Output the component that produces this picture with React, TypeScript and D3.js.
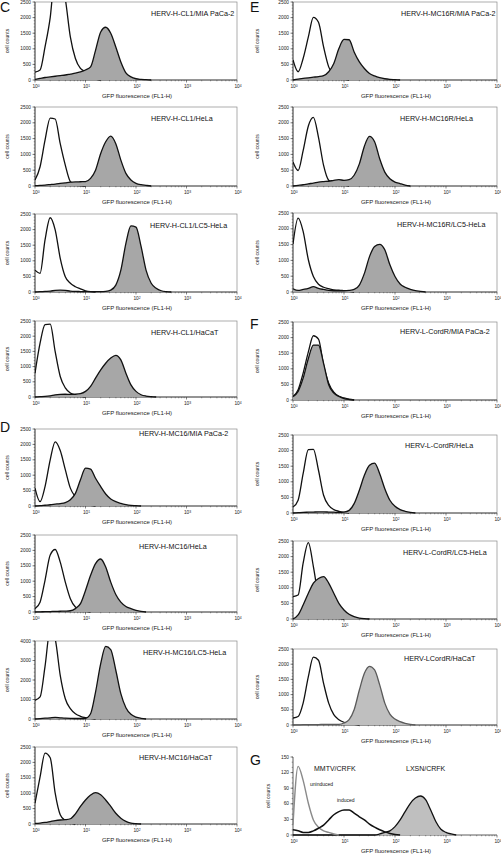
import React from "react";
import * as d3 from "d3";

// shared fluorescence grid (FL1-H), 0.1-decade steps
const fluorescence = [1, 1.26, 1.58, 2, 2.51, 3.16, 3.98, 5.01, 6.31, 7.94, 10, 12.6, 15.8, 20, 25.1, 31.6, 39.8, 50.1, 63.1, 79.4, 100, 126, 158, 200, 251, 316, 398, 501, 631, 794, 1000, 1259, 1585];

const decadeTicks = [1, 10, 100, 1000, 10000];
const decadeExponents = ["0", "1", "2", "3", "4"];
const countTicks = [0, 500, 1000, 1500, 2000, 2500];
const countTicksLC5 = [0, 1000, 2000, 3000, 4000];
const countTicksG = [0, 30, 60, 90, 120, 150];

const panelLetters = ["C", "D", "E", "F", "G"];

// C
const c1Control = [250, 320, 1060, 2000, 3400, 3300, 2600, 1380, 690, 370, 265, 100, 30, 0];
const c1Sample = [20, 50, 80, 100, 120, 140, 160, 190, 220, 260, 320, 420, 950, 1540, 1690, 1500, 1060, 580, 230, 100, 40, 20, 10, 0];
const c2Control = [190, 610, 1450, 2150, 2120, 1340, 660, 140, 30, 10, 0];
const c2Sample = [10, 20, 30, 45, 60, 80, 100, 120, 130, 135, 140, 240, 500, 1030, 1400, 1580, 1340, 820, 400, 190, 85, 40, 20, 0];
const c3Control = [700, 600, 1670, 2380, 1990, 1080, 490, 280, 170, 100, 40, 10, 0];
const c3Sample = [0, 10, 20, 30, 50, 60, 50, 30, 20, 15, 10, 10, 10, 10, 20, 60, 220, 700, 1560, 2120, 2080, 1460, 700, 280, 120, 40, 10, 0];
const c4Control = [785, 1770, 2380, 2400, 1490, 675, 300, 130, 65, 20, 0];
const c4Sample = [0, 10, 20, 40, 70, 85, 90, 85, 90, 110, 185, 350, 620, 890, 1110, 1280, 1370, 1220, 785, 400, 185, 75, 30, 10, 0];
// D
const d1Control = [580, 140, 630, 1500, 2080, 1800, 1180, 580, 300, 140, 65, 20, 0];
const d1Sample = [0, 10, 25, 40, 60, 80, 110, 200, 410, 850, 1230, 1200, 900, 630, 390, 230, 140, 85, 45, 20, 10, 0];
const d2Control = [110, 320, 1030, 1850, 2030, 1620, 970, 430, 160, 75, 30, 0];
const d2Sample = [0, 5, 10, 15, 20, 25, 30, 40, 110, 270, 700, 1190, 1570, 1720, 1460, 970, 570, 320, 180, 110, 55, 20, 0];
const d3Control = [960, 1130, 2700, 4600, 4100, 2240, 1040, 530, 270, 140, 70, 30, 0];
const d3Sample = [0, 20, 40, 60, 80, 60, 40, 30, 25, 25, 35, 270, 1380, 2840, 3720, 3560, 2500, 1300, 580, 240, 100, 35, 0];
const d4Control = [675, 1530, 2300, 2150, 1000, 300, 110, 30, 0];
const d4Sample = [20, 30, 50, 80, 110, 130, 140, 170, 330, 570, 780, 940, 1020, 950, 780, 570, 350, 190, 85, 30, 10, 0];
// E
const e1Control = [640, 265, 690, 1380, 2010, 1850, 1060, 420, 160, 75, 30, 0];
const e1Sample = [0, 30, 50, 70, 90, 110, 140, 265, 530, 1010, 1300, 1290, 900, 580, 370, 210, 130, 75, 40, 20, 10, 0];
const e2Control = [760, 490, 1120, 1900, 2170, 1540, 650, 180, 95, 60, 30, 0];
const e2Sample = [0, 20, 40, 70, 90, 125, 140, 150, 180, 200, 180, 200, 340, 700, 1260, 1570, 1400, 860, 440, 230, 125, 75, 30, 0];
const e3Control = [1520, 2340, 1920, 1020, 490, 245, 150, 105, 65, 60, 40, 20, 0];
const e3Sample = [100, 50, 80, 115, 170, 115, 80, 50, 40, 40, 40, 50, 80, 220, 590, 1120, 1440, 1510, 1335, 860, 490, 255, 150, 85, 40, 20, 0];
// F
const f1Control = [110, 330, 860, 1540, 2060, 1950, 1120, 540, 250, 115, 65, 25, 0];
const f1Sample = [110, 275, 700, 1330, 1760, 1760, 1170, 490, 220, 115, 45, 15, 0];
const f2Control = [190, 410, 1260, 2030, 2040, 1370, 570, 245, 110, 55, 20, 0];
const f2Sample = [0, 10, 20, 25, 30, 35, 35, 30, 25, 20, 30, 85, 300, 730, 1210, 1530, 1600, 1260, 780, 410, 215, 110, 55, 20, 0];
const f3Control = [720, 770, 1790, 2450, 1680, 720, 290, 130, 55, 20, 0];
const f3Sample = [0, 130, 450, 825, 1150, 1300, 1360, 1150, 825, 500, 290, 150, 75, 30, 10, 0];
const f4Control = [230, 280, 720, 1590, 2230, 2130, 1370, 720, 340, 175, 90, 45, 20, 0];
const f4Sample = [0, 5, 10, 10, 15, 15, 20, 20, 20, 20, 65, 175, 500, 1150, 1700, 1930, 1810, 1320, 720, 360, 195, 110, 55, 20, 0];
// G
const gUninduced = [20, 132, 105, 61, 29, 15, 8, 5, 2, 0];
const gInduced = [10, 8, 5, 5, 8, 13, 19, 29, 39, 45, 48, 48, 42, 35, 29, 21, 15, 10, 6, 3, 1, 0];
const gLXSN = [0, 0, 0, 0, 0, 0, 0, 0, 0, 0, 0, 0, 0, 0, 0, 0, 0, 2, 5, 8, 16, 29, 45, 61, 71, 75, 68, 48, 26, 11, 5, 2, 0];

const FONT = "'Liberation Sans', Arial, Helvetica, sans-serif";
const FILL = "#a7a7a7";
const FILL_LIGHT = "#bfbfbf";

type PanelDef = {
  id: string;
  title: string;
  titleX: number;
  titleDy: number;
  control: number[];
  sample: number[];
  yTicks: number[];
  minorStep: number;
  x0: number; x1: number; y0: number; y1: number;
  sampleFill?: string;
  sampleStroke?: string;
};

const L = { x0: 35, x1: 237 };
const R = { x0: 293, x1: 497 };

const panels: PanelDef[] = [
  { id: "c1", title: "HERV-H-CL1/MIA PaCa-2", titleX: 151, titleDy: 14, control: c1Control, sample: c1Sample, yTicks: countTicks, minorStep: 100, ...L, y0: 2, y1: 80 },
  { id: "c2", title: "HERV-H-CL1/HeLa", titleX: 151, titleDy: 14, control: c2Control, sample: c2Sample, yTicks: countTicks, minorStep: 100, ...L, y0: 107, y1: 186 },
  { id: "c3", title: "HERV-H-CL1/LC5-HeLa", titleX: 150, titleDy: 13.5, control: c3Control, sample: c3Sample, yTicks: countTicks, minorStep: 100, ...L, y0: 214, y1: 292 },
  { id: "c4", title: "HERV-H-CL1/HaCaT", titleX: 151, titleDy: 13.5, control: c4Control, sample: c4Sample, yTicks: countTicks, minorStep: 100, ...L, y0: 321, y1: 397 },
  { id: "d1", title: "HERV-H-MC16/MIA PaCa-2", titleX: 139, titleDy: 7, control: d1Control, sample: d1Sample, yTicks: countTicks, minorStep: 100, ...L, y0: 429, y1: 506 },
  { id: "d2", title: "HERV-H-MC16/HeLa", titleX: 139, titleDy: 13.5, control: d2Control, sample: d2Sample, yTicks: countTicks, minorStep: 100, ...L, y0: 535, y1: 612 },
  { id: "d3", title: "HERV-H-MC16/LC5-HeLa", titleX: 143, titleDy: 13.5, control: d3Control, sample: d3Sample, yTicks: countTicksLC5, minorStep: 200, ...L, y0: 641, y1: 719 },
  { id: "d4", title: "HERV-H-MC16/HaCaT", titleX: 139, titleDy: 12.5, control: d4Control, sample: d4Sample, yTicks: countTicks, minorStep: 100, ...L, y0: 747, y1: 824 },
  { id: "e1", title: "HERV-H-MC16R/MIA PaCa-2", titleX: 401, titleDy: 14, control: e1Control, sample: e1Sample, yTicks: countTicks, minorStep: 100, ...R, y0: 2, y1: 80 },
  { id: "e2", title: "HERV-H-MC16R/HeLa", titleX: 400, titleDy: 14, control: e2Control, sample: e2Sample, yTicks: countTicks, minorStep: 100, ...R, y0: 107, y1: 186 },
  { id: "e3", title: "HERV-H-MC16R/LC5-HeLa", titleX: 397, titleDy: 14, control: e3Control, sample: e3Sample, yTicks: countTicks, minorStep: 100, ...R, y0: 213, y1: 292 },
  { id: "f1", title: "HERV-L-CordR/MIA PaCa-2", titleX: 400, titleDy: 11.5, control: f1Control, sample: f1Sample, yTicks: countTicks, minorStep: 100, ...R, y0: 322, y1: 400 },
  { id: "f2", title: "HERV-L-CordR/HeLa", titleX: 405, titleDy: 12.5, control: f2Control, sample: f2Sample, yTicks: countTicks, minorStep: 100, ...R, y0: 435, y1: 513 },
  { id: "f3", title: "HERV-L-CordR/LC5-HeLa", titleX: 403, titleDy: 13.5, control: f3Control, sample: f3Sample, yTicks: countTicks, minorStep: 100, ...R, y0: 541, y1: 619 },
  { id: "f4", title: "HERV-LCordR/HaCaT", titleX: 404, titleDy: 12, control: f4Control, sample: f4Sample, yTicks: countTicks, minorStep: 100, ...R, y0: 649, y1: 725, sampleFill: FILL_LIGHT, sampleStroke: "#5a5a5a" },
];

const gLayout = { ...R, y0: 757, y1: 835 };

const letterPos = [
  { x: 0, y: 12 },
  { x: 0, y: 432 },
  { x: 250, y: 12 },
  { x: 250, y: 329 },
  { x: 250, y: 765 },
];

function Axes({ x, y, x0, x1, y0, y1, yTicks, minorStep, frame, cellX }: any) {
  const yMax = yTicks[yTicks.length - 1];
  const minorY = d3.range(0, yMax + 0.001, minorStep);
  const minorX = x.ticks().filter((t: number) => !decadeTicks.includes(t));
  return (
    <g fontFamily={FONT}>
      {frame && <rect x={x0} y={y0} width={x1 - x0} height={y1 - y0} fill="none" stroke="#8a8a8a" strokeWidth={0.7} />}
      <line x1={x0} x2={x0} y1={y0} y2={y1} stroke="#333" strokeWidth={0.8} />
      <line x1={x0} x2={x1} y1={y1} y2={y1} stroke="#333" strokeWidth={0.8} />
      {minorY.map((v: number) => (
        <line key={"my" + v} x1={x0 - 1.3} x2={x0} y1={y(v)} y2={y(v)} stroke="#444" strokeWidth={0.5} />
      ))}
      {yTicks.map((v: number) => (
        <g key={"y" + v}>
          <line x1={x0 - 2.5} x2={x0} y1={y(v)} y2={y(v)} stroke="#333" strokeWidth={0.6} />
          <text x={x0 - 4} y={y(v)} dy="0.35em" textAnchor="end" fontSize={4.8} fill="#222">{v}</text>
        </g>
      ))}
      {minorX.map((v: number) => (
        <line key={"mx" + v} x1={x(v)} x2={x(v)} y1={y1} y2={y1 + 1.3} stroke="#444" strokeWidth={0.5} />
      ))}
      {decadeTicks.map((v, i) => (
        <g key={"x" + v}>
          <line x1={x(v)} x2={x(v)} y1={y1} y2={y1 + 2.5} stroke="#333" strokeWidth={0.6} />
          <text x={x(v) + 1} y={y1 + 8.3} textAnchor="middle" fontSize={4.8} fill="#222">
            10<tspan dy={-1.8} fontSize={3.4}>{decadeExponents[i]}</tspan>
          </text>
        </g>
      ))}
      <text x={(x0 + x1) / 2 + 1} y={y1 + 17.5} textAnchor="middle" fontSize={6} fill="#222">GFP fluorescence (FL1-H)</text>
      <text transform={`translate(${cellX},${(y0 + y1) / 2}) rotate(-90)`} textAnchor="middle" fontSize={5.2} fill="#222">cell counts</text>
    </g>
  );
}

function Panel({ p }: { p: PanelDef }) {
  const x = d3.scaleLog().domain([1, 10000]).range([p.x0, p.x1]);
  const yMax = p.yTicks[p.yTicks.length - 1];
  const y = d3.scaleLinear().domain([0, yMax]).range([p.y1, p.y0]);
  const line = d3.line<number>().x((_, i) => x(fluorescence[i])).y((d) => y(d)).curve(d3.curveMonotoneX);
  const area = d3.area<number>().x((_, i) => x(fluorescence[i])).y0(y(0)).y1((d) => y(d)).curve(d3.curveMonotoneX);
  const clipId = "clip-" + p.id;
  return (
    <g>
      <clipPath id={clipId}>
        <rect x={p.x0} y={p.y0} width={p.x1 - p.x0} height={p.y1 - p.y0 + 1} />
      </clipPath>
      <Axes x={x} y={y} x0={p.x0} x1={p.x1} y0={p.y0} y1={p.y1} yTicks={p.yTicks} minorStep={p.minorStep} frame={true} cellX={p.x0 < 100 ? 9 : 258.5} />
      <g clipPath={`url(#${clipId})`}>
        <path d={line(p.control) || ""} fill="none" stroke="#111" strokeWidth={1.3} strokeLinejoin="round" />
        <path d={area(p.sample) || ""} fill={p.sampleFill || FILL} stroke="none" />
        <path d={line(p.sample) || ""} fill="none" stroke={p.sampleStroke || "#111"} strokeWidth={1.3} strokeLinejoin="round" />
      </g>
      <text x={p.titleX} y={p.y0 + p.titleDy} fontFamily={FONT} fontSize={7.2} fill="#111">{p.title}</text>
    </g>
  );
}

function PanelG() {
  const g = gLayout;
  const x = d3.scaleLog().domain([1, 10000]).range([g.x0, g.x1]);
  const y = d3.scaleLinear().domain([0, 150]).range([g.y1, g.y0]);
  const line = d3.line<number>().x((_, i) => x(fluorescence[i])).y((d) => y(d)).curve(d3.curveMonotoneX);
  const area = d3.area<number>().x((_, i) => x(fluorescence[i])).y0(y(0)).y1((d) => y(d)).curve(d3.curveMonotoneX);
  return (
    <g>
      <Axes x={x} y={y} x0={g.x0} x1={g.x1} y0={g.y0} y1={g.y1} yTicks={countTicksG} minorStep={10} frame={false} cellX={270} />
      <path d={area(gLXSN) || ""} fill={FILL_LIGHT} />
      <path d={line(gLXSN) || ""} fill="none" stroke="#111" strokeWidth={1.3} />
      <path d={line(gUninduced) || ""} fill="none" stroke="#8a8a8a" strokeWidth={1.4} />
      <path d={line(gInduced) || ""} fill="none" stroke="#111" strokeWidth={1.5} />
      <g fontFamily={FONT} fill="#111">
        <text x={314} y={770.5} fontSize={7}>MMTV/CRFK</text>
        <text x={406} y={770.5} fontSize={7}>LXSN/CRFK</text>
        <text x={310} y={786} fontSize={5}>uninduced</text>
        <text x={337} y={802} fontSize={5}>induced</text>
      </g>
    </g>
  );
}

export default function App() {
  return (
    <svg width={501} height={856} viewBox="0 0 501 856" style={{ position: "absolute", left: 0, top: 0, background: "#fff" }}>
      <rect x={0} y={0} width={501} height={856} fill="#fff" />
      {panels.map((p) => (
        <Panel key={p.id} p={p} />
      ))}
      <PanelG />
      {panelLetters.map((l, i) => (
        <text key={l} x={letterPos[i].x} y={letterPos[i].y} fontFamily={FONT} fontSize={14} fill="#111">{l}</text>
      ))}
    </svg>
  );
}
